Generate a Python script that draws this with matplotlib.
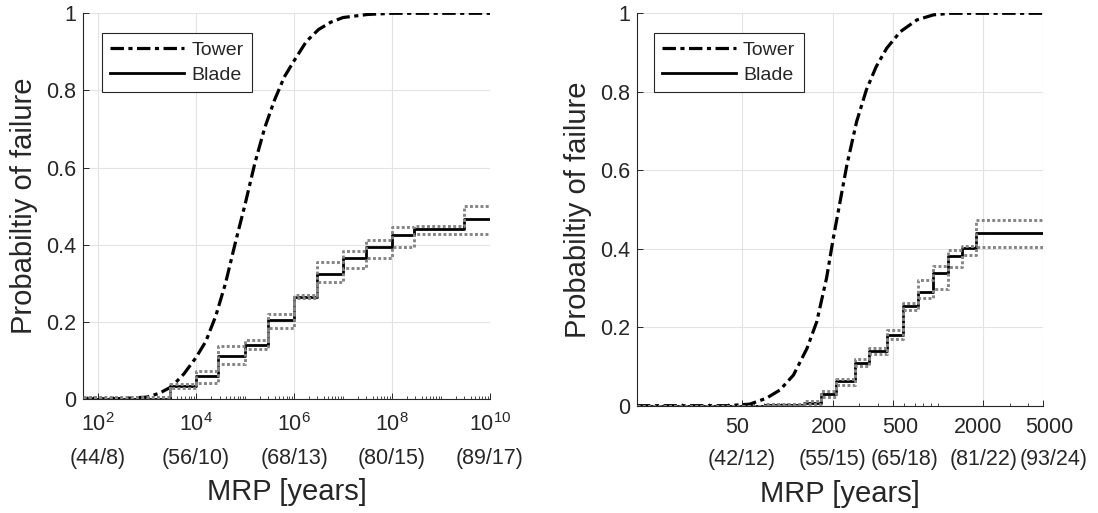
import numpy as np
import matplotlib
matplotlib.use('Agg')
import matplotlib.pyplot as plt
import matplotlib.transforms as mtransforms
from matplotlib.ticker import FixedLocator, LogLocator, NullFormatter, FixedFormatter

plt.rcParams['font.family'] = ['Liberation Sans', 'DejaVu Sans']
plt.rcParams['mathtext.fontset'] = 'custom'
plt.rcParams['mathtext.rm'] = 'Liberation Sans'
plt.rcParams['mathtext.it'] = 'Liberation Sans:italic'
plt.rcParams['mathtext.bf'] = 'Liberation Sans:bold'

# ---------------- Left panel data ----------------
left_tower_log_mrp = [1.69, 2.5, 3.0, 3.25, 3.5, 3.75, 4.0, 4.2, 4.4, 4.6, 4.8, 5.0,
                      5.2, 5.4, 5.6, 5.8, 6.0, 6.25, 6.5, 6.75, 7.0, 7.5, 8.0, 10.0]
left_tower_pf = [0.0, 0.001, 0.005, 0.015, 0.032, 0.065, 0.108, 0.150, 0.215, 0.300,
                 0.405, 0.505, 0.612, 0.703, 0.775, 0.835, 0.877, 0.927, 0.958, 0.977,
                 0.989, 0.997, 1.0, 1.0]
left_blade_log_edges = [1.69, 3.46, 4.0, 4.45, 5.0, 5.46, 6.0, 6.46, 7.0, 7.46, 8.0, 8.44, 9.46, 10.0]
left_blade_pf = [0.0, 0.033, 0.060, 0.111, 0.141, 0.204, 0.265, 0.324, 0.366, 0.395, 0.426, 0.442, 0.467]
left_blade_lower = [0.0, 0.028, 0.041, 0.090, 0.130, 0.185, 0.262, 0.304, 0.339, 0.365, 0.395, 0.427, 0.427]
left_blade_upper = [0.004, 0.040, 0.073, 0.138, 0.153, 0.220, 0.270, 0.355, 0.385, 0.412, 0.446, 0.449, 0.501]
left_xticks = [1e2, 1e4, 1e6, 1e8, 1e10]
left_xticklabels_top = ['$10^{2}$', '$10^{4}$', '$10^{6}$', '$10^{8}$', '$10^{10}$']
left_xticklabels_bottom = ['(44/8)', '(56/10)', '(68/13)', '(80/15)', '(89/17)']
left_xlim = (10 ** 1.69, 1e10)

# ---------------- Right panel data ----------------
right_tower_log_mrp = [1.0, 1.6, 1.75, 1.86, 1.95, 2.04, 2.13, 2.195, 2.26, 2.305, 2.35,
                       2.395, 2.46, 2.525, 2.59, 2.66, 2.75, 2.86, 2.97, 3.08, 3.7]
right_tower_pf = [0.0, 0.0, 0.004, 0.019, 0.040, 0.078, 0.146, 0.214, 0.325, 0.427, 0.520,
                  0.613, 0.724, 0.805, 0.864, 0.911, 0.953, 0.983, 0.996, 1.0, 1.0]
right_blade_log_edges = [1.0, 1.85, 2.11, 2.22, 2.32, 2.45, 2.545, 2.66, 2.77, 2.865, 2.97,
                         3.07, 3.163, 3.256, 3.699]
right_blade_pf = [0.0, 0.002, 0.008, 0.030, 0.062, 0.110, 0.140, 0.180, 0.253, 0.290, 0.339,
                  0.382, 0.401, 0.439]
right_blade_lower = [0.0, 0.0, 0.004, 0.021, 0.054, 0.100, 0.132, 0.171, 0.243, 0.274, 0.297,
                     0.354, 0.385, 0.405]
right_blade_upper = [0.0, 0.005, 0.013, 0.038, 0.068, 0.118, 0.146, 0.192, 0.262, 0.321, 0.356,
                     0.397, 0.408, 0.472]
right_xticks = [50, 200, 500, 2000, 5000]
right_xticklabels_top = ['50', '200', '500', '2000', '5000']
right_xticklabels_bottom = ['(42/12)', '(55/15)', '(65/18)', '(81/22)', '(93/24)']
right_xlim = (10, 5000)

yticks = [0, 0.2, 0.4, 0.6, 0.8, 1.0]
yticklabels = ['0', '0.2', '0.4', '0.6', '0.8', '1']

TXT = '#262626'
GRID = '#e3e3e3'

fig = plt.figure(figsize=(10.98, 5.13), dpi=100)
ax1 = fig.add_axes([83 / 1098, (513 - 399) / 513, 407 / 1098, 385.7 / 513])
ax2 = fig.add_axes([637 / 1098, (513 - 405.7) / 513, 406 / 1098, 392.4 / 513])


def draw(ax, tlog, tpf, blog, bpf, blo, bup, xt, xtl_top, xtl_bot, xlim, leg_anchor,
         top_dx, bot_dx, bot_dy, xlabel_y, xpad):
    ax.set_xscale('log')
    tx = [10 ** v for v in tlog]
    bx = [10 ** v for v in blog]
    tower, = ax.plot(tx, tpf, color='black', lw=2.3, dashes=(4.2, 1.4, 1.3, 1.4),
                     dash_capstyle='butt', label='Tower', zorder=3)
    blade, = ax.step(bx, list(bpf) + [bpf[-1]], where='post', color='black', lw=2.0,
                     label='Blade', zorder=4)
    for b in (blo, bup):
        ax.step(bx, list(b) + [b[-1]], where='post', color='#858585', lw=2.1,
                linestyle=(0, (1.0, 0.8)), dash_capstyle='butt', zorder=5)
    ax.set_xlim(*xlim)
    ax.set_ylim(0, 1)
    ax.xaxis.set_major_locator(FixedLocator(xt))
    ax.xaxis.set_major_formatter(FixedFormatter(xtl_top))
    ax.xaxis.set_minor_locator(LogLocator(base=10, subs=np.arange(1, 10), numticks=100))
    ax.xaxis.set_minor_formatter(NullFormatter())
    ax.set_yticks(yticks)
    ax.set_yticklabels(yticklabels)
    ax.grid(True, which='major', color=GRID, lw=0.8)
    ax.set_axisbelow(True)
    for s in ('top', 'right'):
        ax.spines[s].set_visible(False)
    for s in ('left', 'bottom'):
        ax.spines[s].set_color(TXT)
        ax.spines[s].set_linewidth(0.8)
    ax.tick_params(which='both', direction='in', colors=TXT, labelsize=15.5, top=False, right=False)
    ax.tick_params(which='major', length=4, width=0.7)
    ax.tick_params(which='minor', length=2.2, width=0.6)
    ax.tick_params(axis='x', which='major', pad=xpad)
    ax.tick_params(axis='y', which='major', pad=5)
    # horizontal nudges of the first tick-label line (pixels)
    for lab, dx in zip(ax.get_xticklabels(), top_dx):
        off = mtransforms.ScaledTranslation(dx / 100, 0, fig.dpi_scale_trans)
        lab.set_transform(lab.get_transform() + off)
    # second line of the tick labels
    for x, s, dx in zip(xt, xtl_bot, bot_dx):
        ax.annotate(s, xy=(x, 0), xycoords=('data', 'axes fraction'),
                    xytext=(dx * 0.72, -bot_dy * 0.72), textcoords='offset points',
                    ha='center', va='center', fontsize=15.5, color=TXT, annotation_clip=False)
    ax.set_xlabel('MRP [years]', fontsize=21, color=TXT, va='center')
    ax.xaxis.set_label_coords(0.5, xlabel_y)
    ax.set_ylabel('Probabiltiy of failure', fontsize=21, color=TXT, labelpad=6)
    leg = ax.legend(handles=[tower, blade], loc='upper left', bbox_to_anchor=leg_anchor,
                    borderaxespad=0, fontsize=14, handlelength=3.8, handletextpad=0.36,
                    labelspacing=0.4, borderpad=0.42, fancybox=False, framealpha=1,
                    edgecolor='#262626')
    leg.get_frame().set_linewidth(0.8)
    for t in leg.get_texts():
        t.set_color(TXT)


draw(ax1, left_tower_log_mrp, left_tower_pf, left_blade_log_edges, left_blade_pf,
     left_blade_lower, left_blade_upper, left_xticks, left_xticklabels_top,
     left_xticklabels_bottom, left_xlim, (0.047, 0.949),
     [0, 0, 0, 0, 0], [0, 0, 0, 0, 0], 59.5, -92.5 / 385.7, 9.8)
draw(ax2, right_tower_log_mrp, right_tower_pf, right_blade_log_edges, right_blade_pf,
     right_blade_lower, right_blade_upper, right_xticks, right_xticklabels_top,
     right_xticklabels_bottom, right_xlim, (0.042, 0.95),
     [-4.5, -4, 8, -5, 6], [0, 0, 12, 0, 11], 54.0, -88.3 / 392.4, 8.3)

fig.savefig('out.png', dpi=100)
